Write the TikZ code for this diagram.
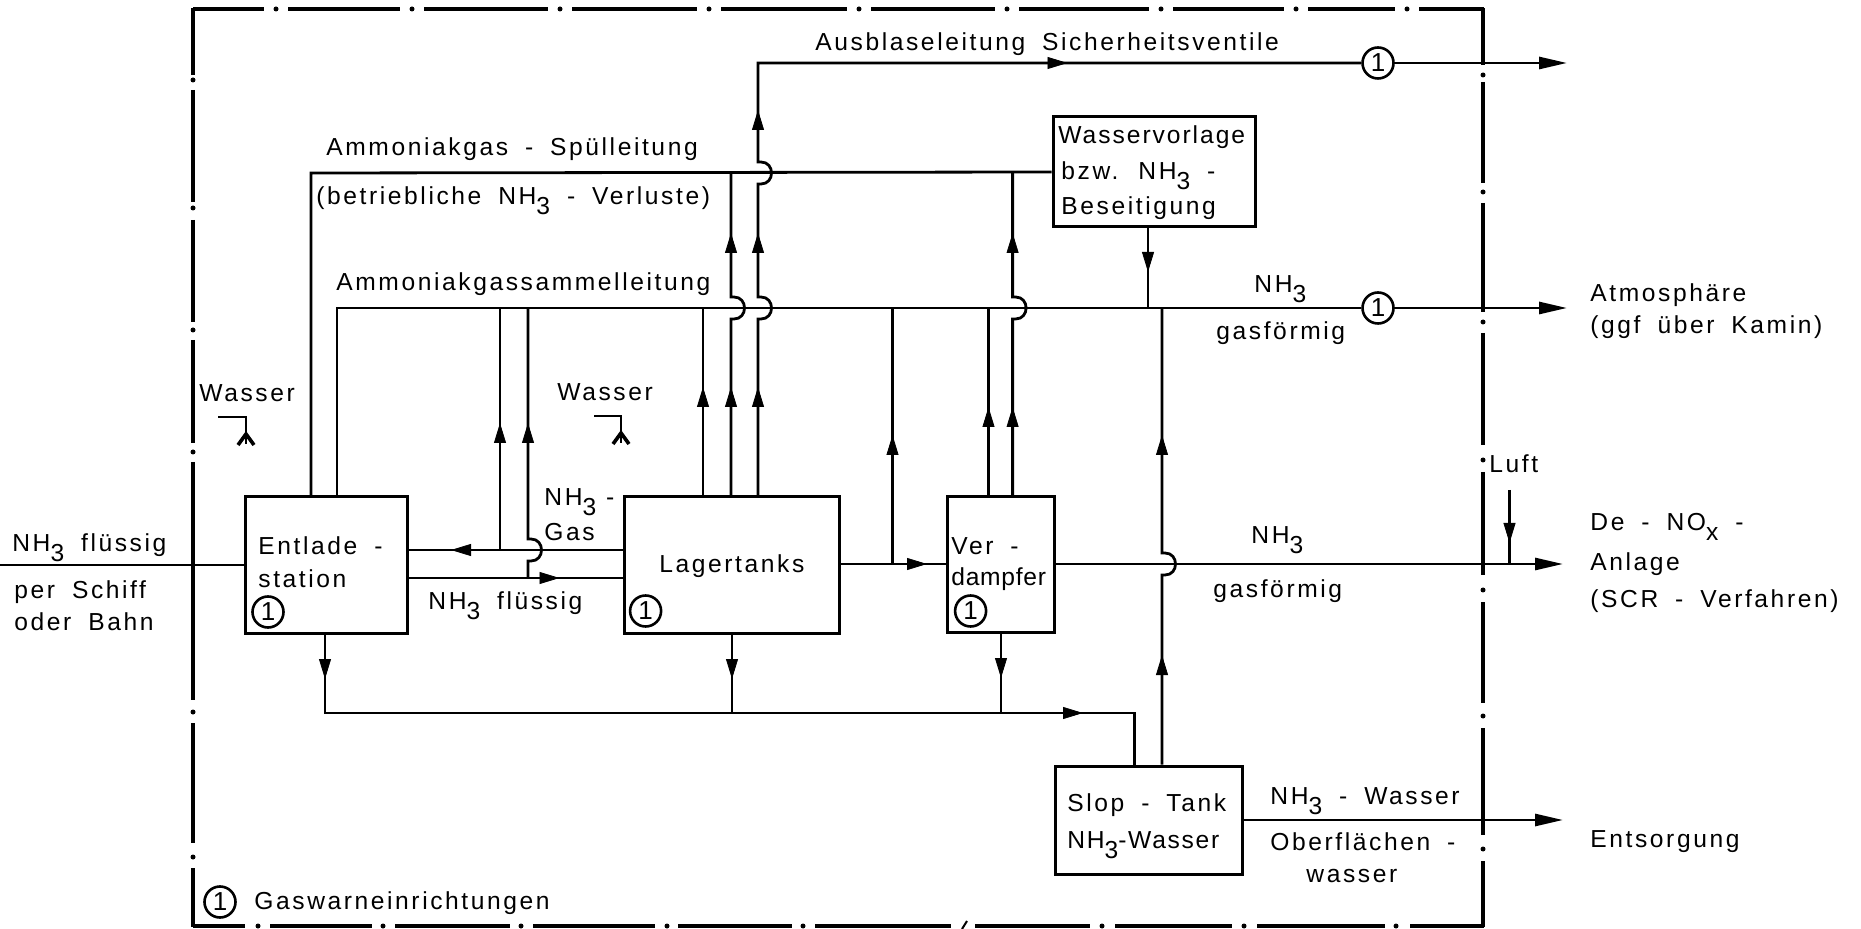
\documentclass[tikz,border=0pt]{standalone}
\usepackage{fontspec}
\setmainfont[LetterSpace=10.5,WordSpace=1.8]{Liberation Sans}
\usepackage{tikz}
\usetikzlibrary{arrows.meta}
\newdimen\unitsize
\setlength{\unitsize}{0.5pt}
\newcommand{\nhdrei}{NH\raisebox{-0.75ex}{3}}
\newcommand{\hopover}[2]{-- (#1,#2+11) -- (#1+3,#2+11) .. controls (#1+17,#2+11) and (#1+17,#2-11) .. (#1+3,#2-11) -- (#1,#2-11)}
\newcommand{\wassersym}[3]{\draw[pipe] (#1,#3) -- (#2,#3) -- (#2,#3+27);
\draw[line width=1.8pt] (#2-8,#3+28) -- (#2,#3+17) -- (#2+8,#3+28);}

\begin{document}
\begin{tikzpicture}[x=\unitsize,y=-\unitsize,font=\fontsize{12.3}{14}\selectfont]
\tikzset{pipe/.style={line width=1.4pt}}%
\tikzset{outlet/.style={pipe,-{Triangle[length=14pt,width=6pt]}}}%
\tikzset{tipmark/.style={line width=0.4pt,-{Triangle[length=10pt,width=6pt]}}}%
\tikzset{frameline/.style={line width=1.9pt}}%
\tikzset{unitbox/.style={draw,line width=1.5pt,fill=white,inner sep=0pt}}%
\tikzset{warn/.style={circle,draw,line width=1.3pt,fill=white,inner sep=0pt,minimum size=15.5pt,font=\fontsize{13}{14}\selectfont}}%
\tikzset{lbl/.style={inner sep=0pt,anchor=mid west,yshift=-1.3pt}}%
\useasboundingbox (0,0) rectangle (1861,929);
\fill[white] (0,0) rectangle (1861,929);
% frame
\foreach \a/\b in {193/264,288/400,424/548,572/697,721/847,871/995,1019/1149,1173/1284,1308/1395,1419/1484}
  \draw[frameline] (\a,9) -- (\b,9);
\foreach \a/\b in {193/245,270/372,395/510,533/655,678/792,815/951,975/1090,1115/1232,1257/1385,1410/1484}
  \draw[frameline] (\a,926) -- (\b,926);
\foreach \a/\b in {8/75,90/202,220/322,340/443,462/700,723/843,868/927}
  \draw[frameline] (193,\a) -- (193,\b);
\foreach \a/\b in {8/65,82/183,203/312,333/445,472/575,602/703,728/835,861/927}
  \draw[frameline] (1483,\a) -- (1483,\b);
\foreach \d in {276,412,560,709,859,1007,1161,1296,1407}
  \fill (\d,9) circle[radius=2.5];
\foreach \d in {258,383,521,667,803,1102,1244,1396}
  \fill (\d,926) circle[radius=2.5];
\foreach \d in {80,208,330,452,712,857}
  \fill (193,\d) circle[radius=2.5];
\foreach \d in {75,192,322,460,590,716,849}
  \fill (1483,\d) circle[radius=2.5];
\draw[line width=1pt] (962,929) -- (967,921);
% units
\node[unitbox,minimum width=80.7pt,minimum height=68pt] (entlade) at (326.3,565) {};
\node[unitbox,minimum width=107.5pt,minimum height=68pt] (lagertanks) at (731.5,565) {};
\node[unitbox,minimum width=53.5pt,minimum height=67.5pt] (verdampfer) at (1000.5,564.5) {};
\node[unitbox,minimum width=101pt,minimum height=55pt] (wasservorlage) at (1154,172) {};
\node[unitbox,minimum width=93.75pt,minimum height=54pt] (slop) at (1148.75,820) {};
\node[warn] (warnAus) at (1378,63) {1};
\node[warn] (warnAtm) at (1378,308) {1};
\node[warn] (warnEnt) at (268,612) {1};
\node[warn] (warnLag) at (645.6,611) {1};
\node[warn] (warnVer) at (970.6,611) {1};
\node[warn] (warnKey) at (220,902) {1};
\coordinate (inlet) at (0,565);
\coordinate (ausEnd) at (1567,63);
\coordinate (atmEnd) at (1567,308);
\coordinate (noxEnd) at (1563,564);
\coordinate (slopEnd) at (1563,820);
% gas lines
\draw[pipe] (758,0 |- lagertanks.north) \hopover{758}{308} \hopover{758}{173} -- (758,63) -- (warnAus);
\draw[outlet] (warnAus) -- (ausEnd);
\draw[pipe] (311,0 |- entlade.north) -- (311,173) -- (wasservorlage.west);
\draw[pipe] (337,0 |- entlade.north) -- (337,308) -- (warnAtm);
\draw[outlet] (warnAtm) -- (atmEnd);
\draw[pipe] (731,0 |- lagertanks.north) \hopover{731}{308} -- (731,173);
\draw[pipe] (703,0 |- lagertanks.north) -- (703,308);
\draw[pipe] (lagertanks.west |- 0,550) -- (entlade.east |- 0,550);
\draw[pipe] (entlade.east |- 0,578) -- (lagertanks.west |- 0,578);
\draw[pipe] (500,550) -- (500,308);
\draw[pipe] (528,578) \hopover{528}{550} -- (528,308);
\draw[pipe] (lagertanks.east |- 0,564) -- (verdampfer.west |- 0,564);
\draw[pipe] (892.5,564) -- (892.5,308);
\draw[pipe] (988.5,0 |- verdampfer.north) -- (988.5,308);
\draw[pipe] (1012.6,0 |- verdampfer.north) \hopover{1012.6}{308} -- (1012.6,173);
\draw[pipe] (1148,0 |- wasservorlage.south) -- (1148,308);
\draw[pipe] (1162,0 |- slop.north) \hopover{1162}{564} -- (1162,308);
\draw[outlet] (verdampfer.east |- 0,564) -- (noxEnd);
\draw[pipe] (1509.5,490) -- (1509.5,564);
\draw[pipe] (inlet) -- (entlade.west);
% drains
\draw[pipe] (325,0 |- entlade.south) -- (325,713) -- (1134.5,713) -- (1134.5,0 |- slop.north);
\draw[pipe] (732,0 |- lagertanks.south) -- (732,713);
\draw[pipe] (1001,0 |- verdampfer.south) -- (1001,713);
\draw[outlet] (slop.east) -- (slopEnd);
% tips along the lines
\foreach \x/\y in {758/110,731/233,758/233,500/423,528/423,703/387,731/387,758/387,988.5/407,1012.6/407,1012.6/233,892.5/435,1162/435,1162/655}
  \draw[tipmark] (\x,\y+20) -- (\x,\y);
\foreach \x/\y in {325/679,732/679,1001/678,1148/272,1509.5/543}
  \draw[tipmark] (\x,\y-20) -- (\x,\y);
\foreach \x/\y in {1067.5/63,927/564,559.5/578,1083/713}
  \draw[tipmark] (\x-20,\y) -- (\x,\y);
\draw[tipmark] (471,550) -- (451,550);
\wassersym{218}{246}{417}
\wassersym{594}{621}{416}
% labels
\node[lbl] (lAus) at (815,43) {Ausblaseleitung Sicherheitsventile};
\node[lbl] (lSpuel) at (326,148) {Ammoniakgas - Spülleitung};
\node[lbl] (lVerl) at (316,197) {(betriebliche \nhdrei{} - Verluste)};
\node[lbl] (lSam) at (336,283) {Ammoniakgassammelleitung};
\node[lbl] (lWasA) at (199,394) {Wasser};
\node[lbl] (lWasB) at (557,393) {Wasser};
\node[lbl] (lVorA) at (1058,136) {\addfontfeature{LetterSpace=8}Wasservorlage};
\node[lbl] (lVorB) at (1061,172) {bzw. \nhdrei{} -};
\node[lbl] (lVorC) at (1061,207) {Beseitigung};
\node[lbl] (lGasA) at (1254,285) {\nhdrei};
\node[lbl] (lGasB) at (1216,332) {gasförmig};
\node[lbl] (lLuft) at (1489,465) {Luft};
\node[lbl] (lEntA) at (258,547) {Entlade -};
\node[lbl] (lEntB) at (258,580) {station};
\node[lbl] (lLag) at (659,565) {Lagertanks};
\node[lbl] (lNhA) at (544,498) {\nhdrei\hspace{5pt}-};
\node[lbl] (lNhB) at (544,533) {Gas};
\node[lbl] (lFl) at (428,602) {\nhdrei{} flüssig};
\node[lbl] (lVerA) at (951,547) {Ver -};
\node[lbl] (lVerB) at (951,578) {\addfontfeature{LetterSpace=3}dampfer};
\node[lbl] (lNoxA) at (1251,536) {\nhdrei};
\node[lbl] (lNoxB) at (1213,590) {gasförmig};
\node[lbl] (lSlopA) at (1067,804) {Slop - Tank};
\node[lbl] (lSlopB) at (1067,841) {\addfontfeature{LetterSpace=7}\nhdrei-Wasser};
\node[lbl] (lWatA) at (1270,797) {\nhdrei{} - Wasser};
\node[lbl] (lWatB) at (1270,843) {Oberflächen -};
\node[lbl] (lWatC) at (1306,875) {wasser};
\node[lbl] (lKey) at (254,902) {Gaswarneinrichtungen};
\node[lbl] (lInA) at (12,544) {\nhdrei{} flüssig};
\node[lbl] (lInB) at (14,591) {per Schiff};
\node[lbl] (lInC) at (14,623) {oder Bahn};
\node[lbl] (lAtmA) at (1590,294) {Atmosphäre};
\node[lbl] (lAtmB) at (1590,326) {(ggf über Kamin)};
\node[lbl] (lDeA) at (1590,523) {De - NO\raisebox{-0.75ex}{x} -};
\node[lbl] (lDeB) at (1590,563) {Anlage};
\node[lbl] (lDeC) at (1590,600) {(SCR - Verfahren)};
\node[lbl] (lEnts) at (1590,840) {Entsorgung};
\end{tikzpicture}
\end{document}
